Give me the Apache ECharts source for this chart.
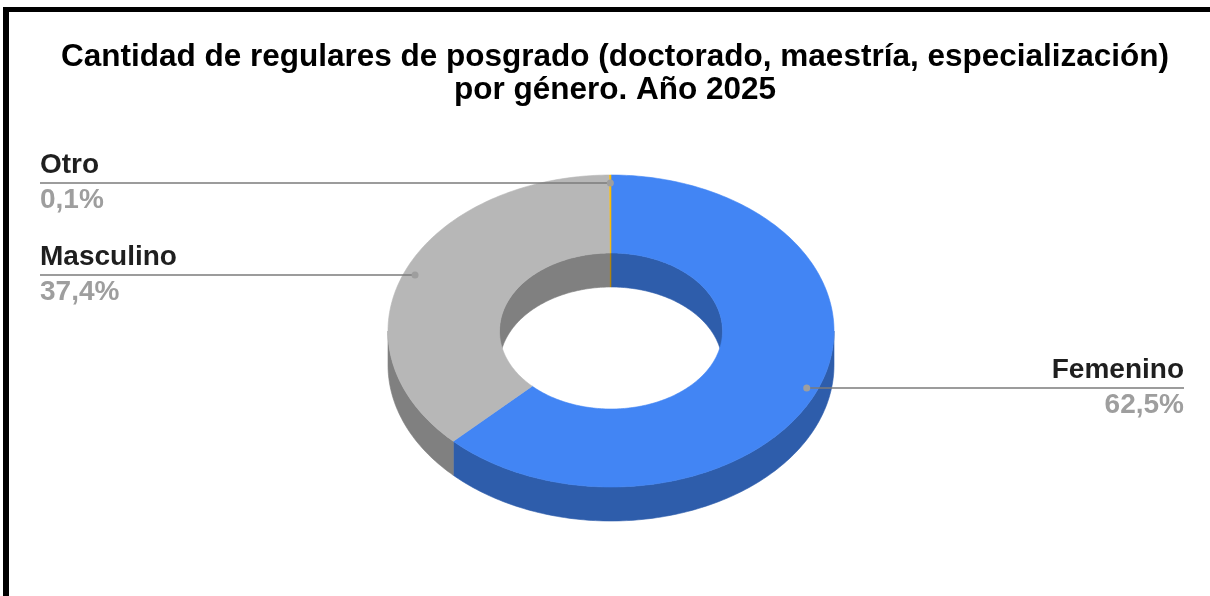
<!DOCTYPE html>
<html>
<head>
<meta charset="utf-8">
<script src="https://cdn.jsdelivr.net/npm/echarts@6/dist/echarts.min.js"></script>
<style>
  html, body { margin: 0; padding: 0; background: #fff; }
  #chart { position: absolute; left: 0; top: 0; width: 1210px; height: 596px; }
  #frame { position: absolute; left: 3px; top: 7px; right: 0; bottom: 0;
           border-top: 5px solid #000; border-left: 6px solid #000; pointer-events: none; }
</style>
</head>
<body>
<div id="chart"></div>
<div id="frame"></div>
<script>
// data
const categories = ['Femenino', 'Masculino', 'Otro']
const values = [62.5, 37.4, 0.1]
const percentLabels = ['62,5%', '37,4%', '0,1%']

// look
const topColors = ['#4285F4', '#B7B7B7', '#FBBC04']
const sideColors = ['#2E5DAB', '#808080', '#B08303']
const font = '"Liberation Sans", Arial, sans-serif'

// ellipse geometry of the 3d donut
const cx = 611
const cy = 331
const rx = 223
const ry = 156
const depth = 34
const inner = 0.5

const total = values.reduce((s, v) => s + v, 0)
let acc = 0
const sliceData = categories.map((name, i) => {
  const start = acc / total * 360
  acc += values[i]
  return { name: name, value: [i, start, acc / total * 360, values[i]] }
})

function pt(r, deg, dy) {
  const t = deg * Math.PI / 180
  return [cx + rx * r * Math.sin(t), cy - ry * r * Math.cos(t) + (dy || 0)]
}

function arc(r, a, b, dy) {
  const pts = []
  const n = Math.max(2, Math.ceil(Math.abs(b - a)))
  for (let k = 0; k <= n; k++) pts.push(pt(r, a + (b - a) * k / n, dy))
  return pts
}

function wall(r, a, b, color) {
  const pts = arc(r, a, b, 0).concat(arc(r, b, a, depth))
  return {
    type: 'polygon',
    shape: { points: pts },
    style: { fill: color, stroke: color, lineWidth: 0.6 }
  }
}

function renderWalls(params, api) {
  const i = api.value(0)
  const a = api.value(1)
  const b = api.value(2)
  const children = []
  // outer wall, front half only
  const oa = Math.max(a, 90)
  const ob = Math.min(b, 270)
  if (ob > oa) children.push(wall(1, oa, ob, sideColors[i]))
  // inner wall, back half of the hole
  ;[[0, 90], [270, 360]].forEach(function (rg) {
    const s = Math.max(a, rg[0])
    const e = Math.min(b, rg[1])
    if (e > s) children.push(wall(inner, s, e, sideColors[i]))
  })
  return { type: 'group', children: children }
}

function renderTops(params, api) {
  const i = api.value(0)
  const a = api.value(1)
  const b = api.value(2)
  const pts = arc(1, a, b, 0).concat(arc(inner, b, a, 0))
  return {
    type: 'polygon',
    shape: { points: pts },
    style: { fill: topColors[i], stroke: topColors[i], lineWidth: 0.6 }
  }
}

function renderLabels(params, api) {
  const i = api.value(0)
  const mid = (api.value(1) + api.value(2)) / 2
  const p = pt(0.95, mid, 0)
  const left = Math.sin(mid * Math.PI / 180) < 0
  const x = left ? 40 : 1184
  const y = Math.round(p[1])
  return {
    type: 'group',
    children: [
      {
        type: 'line',
        shape: { x1: x, y1: y, x2: p[0], y2: y },
        style: { stroke: '#7b7b7b', lineWidth: 1.6 }
      },
      {
        type: 'circle',
        shape: { cx: p[0], cy: y, r: 3.5 },
        style: { fill: '#9e9e9e' }
      },
      {
        type: 'text',
        x: x,
        y: y - 17.5,
        style: {
          text: categories[i], fill: '#1f1f1f', font: 'bold 28px ' + font,
          align: left ? 'left' : 'right', verticalAlign: 'middle'
        }
      },
      {
        type: 'text',
        x: x,
        y: y + 17.5,
        style: {
          text: percentLabels[i], fill: '#9e9e9e', font: 'bold 28px ' + font,
          align: left ? 'left' : 'right', verticalAlign: 'middle'
        }
      }
    ]
  }
}

const chart = echarts.init(document.getElementById('chart'))
chart.setOption({
  backgroundColor: 'transparent',
  animation: false,
  title: {
    text: 'Cantidad de regulares de posgrado (doctorado, maestría, especialización)\npor género. Año 2025',
    left: 610,
    top: 36,
    textAlign: 'center',
    textStyle: {
      color: '#000',
      fontSize: 31.5,
      fontWeight: 'bold',
      fontFamily: font,
      lineHeight: 33
    }
  },
  series: [
    {
      type: 'custom',
      coordinateSystem: 'none',
      silent: true,
      z: 1,
      data: sliceData,
      renderItem: renderWalls
    },
    {
      type: 'custom',
      coordinateSystem: 'none',
      silent: true,
      z: 2,
      data: sliceData,
      renderItem: renderTops
    },
    {
      type: 'custom',
      coordinateSystem: 'none',
      silent: true,
      z: 3,
      data: sliceData,
      renderItem: renderLabels
    }
  ]
})
</script>
</body>
</html>
